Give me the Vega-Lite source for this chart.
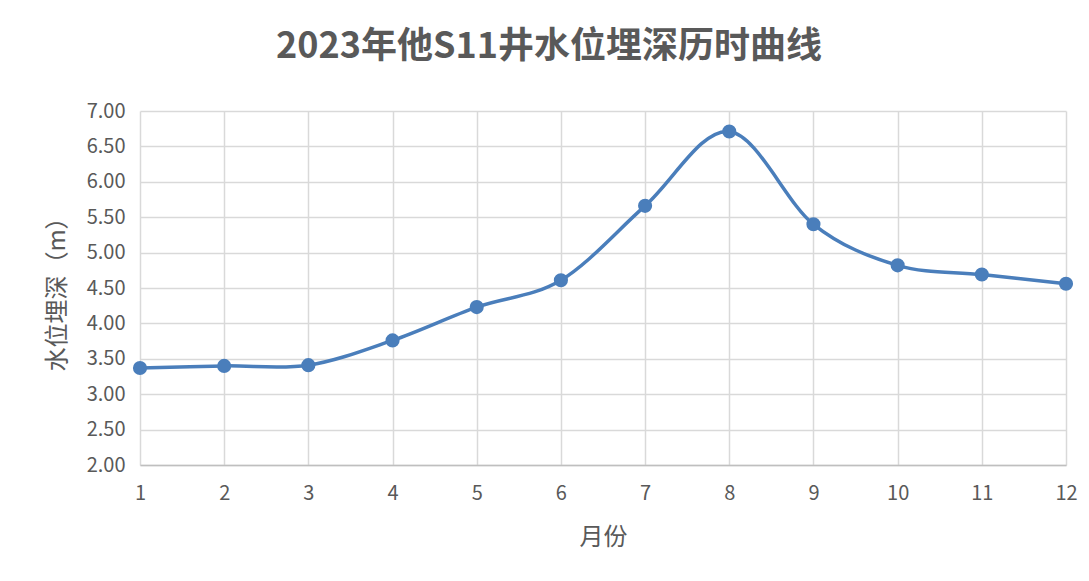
{
  "$schema": "https://vega.github.io/schema/vega-lite/v6.json",
  "width": 926,
  "height": 354,
  "autosize": {"type": "none"},
  "padding": {"left": 140, "top": 111, "right": 23, "bottom": 116},
  "background": "white",
  "title": {
    "text": "2023年他S11井水位埋深历时曲线",
    "font": "Noto Sans CJK SC",
    "fontSize": 36,
    "fontWeight": "bold",
    "color": "#595959",
    "anchor": "middle",
    "dx": -54,
    "offset": 35
  },
  "config": {
    "view": {"stroke": null},
    "axis": {
      "gridColor": "#d9d9d9",
      "gridWidth": 1.5,
      "ticks": false,
      "labelColor": "#595959",
      "titleColor": "#595959",
      "labelFont": "Noto Sans CJK SC",
      "titleFont": "Noto Sans CJK SC",
      "labelFontSize": 20,
      "titleFontSize": 24,
      "titleFontWeight": "normal"
    }
  },
  "data": {
    "values": [
      {"month": 1, "depth": 3.37},
      {"month": 2, "depth": 3.40},
      {"month": 3, "depth": 3.41},
      {"month": 4, "depth": 3.76},
      {"month": 5, "depth": 4.23},
      {"month": 6, "depth": 4.61},
      {"month": 7, "depth": 5.66},
      {"month": 8, "depth": 6.71},
      {"month": 9, "depth": 5.40},
      {"month": 10, "depth": 4.82},
      {"month": 11, "depth": 4.69},
      {"month": 12, "depth": 4.56}
    ]
  },
  "encoding": {
    "x": {
      "field": "month",
      "type": "quantitative",
      "scale": {"domain": [1, 12], "nice": false, "zero": false},
      "axis": {
        "title": "月份",
        "values": [1, 2, 3, 4, 5, 6, 7, 8, 9, 10, 11, 12],
        "format": "d",
        "labelFlush": false,
        "domainColor": "#bfbfbf",
        "domainWidth": 1.5,
        "labelPadding": 18,
        "titlePadding": 22
      }
    },
    "y": {
      "field": "depth",
      "type": "quantitative",
      "scale": {"domain": [2, 7], "nice": false, "zero": false},
      "axis": {
        "title": "水位埋深（m）",
        "values": [2, 2.5, 3, 3.5, 4, 4.5, 5, 5.5, 6, 6.5, 7],
        "format": ".2f",
        "domain": false,
        "labelPadding": 15,
        "titlePadding": 17
      }
    }
  },
  "layer": [
    {
      "mark": {"type": "line", "interpolate": "cardinal", "color": "#4a7ebb", "strokeWidth": 3.5}
    },
    {
      "mark": {"type": "circle", "color": "#4a7ebb", "size": 200, "opacity": 1}
    }
  ]
}
